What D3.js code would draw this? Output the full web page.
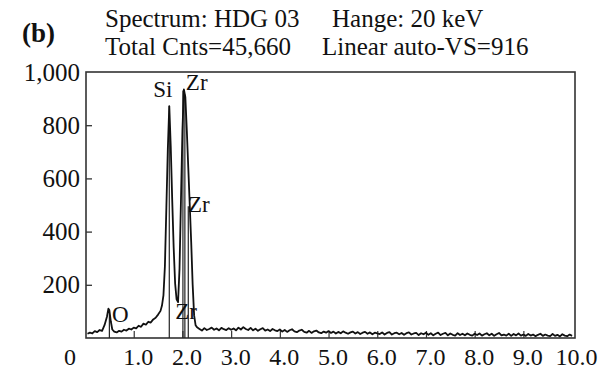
<!DOCTYPE html>
<html><head><meta charset="utf-8">
<script src="https://cdn.jsdelivr.net/npm/d3@7"></script>
<style>
body{margin:0;background:#fff}
text{font-family:"Liberation Serif","Times New Roman",serif;fill:#111}
</style>
</head><body>
<svg id="chart" width="601" height="370"></svg>
<script>
// ---------- data ----------
const lowEnergy = [0.05,0.10,0.15,0.20,0.25,0.30,0.35,0.40,0.45,0.48,0.50,0.53,0.56,0.60,0.65,0.70,0.75,0.80,0.85,0.90,0.95,1.00,1.05,1.10,1.15,1.20,1.25,1.30,1.35,1.40,1.45,1.50,1.55];
const lowCounts = [16,20,17,26,22,30,27,48,80,110,104,62,32,24,21,27,24,31,28,35,32,39,36,46,42,54,50,61,58,70,76,88,102];
const peakEnergy = [1.58,1.61,1.64,1.67,1.70,1.73,1.76,1.79,1.82,1.85,1.88,1.91,1.94,1.97,2.00,2.03,2.06,2.09,2.12,2.15,2.18,2.21,2.24,2.27,2.30];
const peakCounts = [122,160,270,490,710,872,720,520,340,205,145,135,260,520,780,935,905,780,640,500,360,200,85,48,40];
const tailEnergy = [2.35,2.40,2.45,2.50,2.55,2.60,2.65,2.70,2.75,2.80,2.85,2.90,2.95,3.00,
 3.05,3.10,3.15,3.20,3.25,3.30,3.35,3.40,3.45,3.50,3.55,3.60,3.65,3.70,3.75,3.80,3.85,3.90,3.95,4.00,
 4.05,4.10,4.15,4.20,4.25,4.30,4.35,4.40,4.45,4.50,4.55,4.60,4.65,4.70,4.75,4.80,4.85,4.90,4.95,5.00,
 5.05,5.10,5.15,5.20,5.25,5.30,5.35,5.40,5.45,5.50,5.55,5.60,5.65,5.70,5.75,5.80,5.85,5.90,5.95,6.00,
 6.05,6.10,6.15,6.20,6.25,6.30,6.35,6.40,6.45,6.50,6.55,6.60,6.65,6.70,6.75,6.80,6.85,6.90,6.95,7.00,
 7.05,7.10,7.15,7.20,7.25,7.30,7.35,7.40,7.45,7.50,7.55,7.60,7.65,7.70,7.75,7.80,7.85,7.90,7.95,8.00,
 8.05,8.10,8.15,8.20,8.25,8.30,8.35,8.40,8.45,8.50,8.55,8.60,8.65,8.70,8.75,8.80,8.85,8.90,8.95,9.00,
 9.05,9.10,9.15,9.20,9.25,9.30,9.35,9.40,9.45,9.50,9.55,9.60,9.65,9.70,9.75,9.80,9.85,9.90,9.95,10.00];
const tailCounts = [34,28,37,30,34,39,31,36,29,38,33,30,37,31,
 36,29,39,32,41,34,30,38,29,35,27,33,37,28,32,26,34,29,26,32,
 24,30,23,29,33,25,22,28,31,23,20,27,19,25,28,21,18,24,20,26,
 19,24,17,23,18,25,20,16,21,24,17,22,15,20,23,16,21,14,20,17,
 15,21,13,19,22,13,18,20,14,19,12,18,21,13,17,19,11,18,14,20,
 12,18,10,16,20,11,16,19,10,17,12,9,18,11,16,10,17,12,9,16,
 11,17,9,14,18,10,16,8,14,19,10,13,9,16,8,15,10,17,9,13,
 8,15,9,13,7,12,16,8,13,9,7,15,8,12,6,14,9,7,13,8];

const xTickValues = [1,2,3,4,5,6,7,8,9,10];
const xTickLabels = ["1.0","2.0","3.0","4.0","5.0","6.0","7.0","8.0","9.0","10.0"];
const yTickValues = [200,400,600,800,1000];
const yTickLabels = ["200","400","600","800","1,000"];

const markerEnergy = [0.50,1.73,2.01,2.05,2.12];
const markerCounts = [100,872,930,915,495];

const labelText = ["O","Si","Zr","Zr","Zr"];
const labelEnergy = [0.555,1.40,2.07,2.115,1.85];
const labelCounts = [60,906,932,474,71];

const headerLine1 = ["Spectrum: HDG 03","Hange: 20 keV"];
const headerLine2 = ["Total Cnts=45,660","Linear auto-VS=916"];
const panelTag = "(b)";

// ---------- drawing ----------
const svg = d3.select("#chart");
const x = d3.scaleLinear().domain([0.02,10.06]).range([86,575]);
const y = d3.scaleLinear().domain([0,1000]).range([338,72]);

const energy = lowEnergy.concat(peakEnergy, tailEnergy);
const counts = lowCounts.concat(peakCounts, tailCounts);
const pts = energy.map((e,i)=>({e, c: counts[i]}));

// frame
svg.append("rect").attr("x",x.range()[0]).attr("y",y.range()[1])
  .attr("width",x.range()[1]-x.range()[0]).attr("height",y.range()[0]-y.range()[1])
  .attr("fill","none").attr("stroke","#333").attr("stroke-width",1.6);

// y axis
const yAxis = d3.axisLeft(y).tickValues(yTickValues)
  .tickFormat((d,i)=>yTickLabels[i]).tickSize(-6).tickPadding(6);
const gy = svg.append("g").attr("transform",`translate(${x.range()[0]},0)`).call(yAxis);
gy.select(".domain").remove();
gy.selectAll(".tick line").attr("stroke","#333").attr("stroke-width",1.3)
  .attr("opacity",d=>d===1000?0:1);
gy.selectAll(".tick text").attr("font-size",25).attr("fill","#111")
  .style("font-family",'"Liberation Serif",serif');

// x axis
const xAxis = d3.axisBottom(x).tickValues(xTickValues)
  .tickFormat((d,i)=>xTickLabels[i]).tickSize(-7).tickPadding(10);
const gx = svg.append("g").attr("transform",`translate(0,${y.range()[0]})`).call(xAxis);
gx.select(".domain").remove();
gx.selectAll(".tick line").attr("stroke","#333").attr("stroke-width",1.2)
  .attr("opacity",d=>d===10?0:1);
gx.selectAll(".tick text").attr("font-size",24).attr("fill","#111").attr("dx",4)
  .style("font-family",'"Liberation Serif",serif');

// zero label at the corner
svg.append("text").attr("x",70).attr("y",365).attr("text-anchor","middle")
  .attr("font-size",24).text("0");

// marker lines
svg.append("g").selectAll("line").data(markerEnergy).join("line")
  .attr("x1",d=>x(d)).attr("x2",d=>x(d))
  .attr("y1",y(0)).attr("y2",(d,i)=>y(markerCounts[i]))
  .attr("stroke","#222").attr("stroke-width",1.2);

// spectrum
const line = d3.line().x(d=>x(d.e)).y(d=>y(d.c));
svg.append("path").datum(pts).attr("d",line)
  .attr("fill","none").attr("stroke","#111").attr("stroke-width",1.8)
  .attr("stroke-linejoin","round");

// element labels
svg.append("g").selectAll("text").data(labelText).join("text")
  .attr("x",(d,i)=>x(labelEnergy[i])).attr("y",(d,i)=>y(labelCounts[i]))
  .attr("font-size",23).text(d=>d);

// header
svg.append("text").attr("x",22).attr("y",42).attr("font-size",27)
  .attr("font-weight","bold").text(panelTag);
svg.append("text").attr("x",105).attr("y",27).attr("font-size",25).text(headerLine1[0]);
svg.append("text").attr("x",332).attr("y",27).attr("font-size",25).text(headerLine1[1]);
svg.append("text").attr("x",105).attr("y",55).attr("font-size",25).text(headerLine2[0]);
svg.append("text").attr("x",322).attr("y",55).attr("font-size",25).text(headerLine2[1]);
</script>
</body></html>
